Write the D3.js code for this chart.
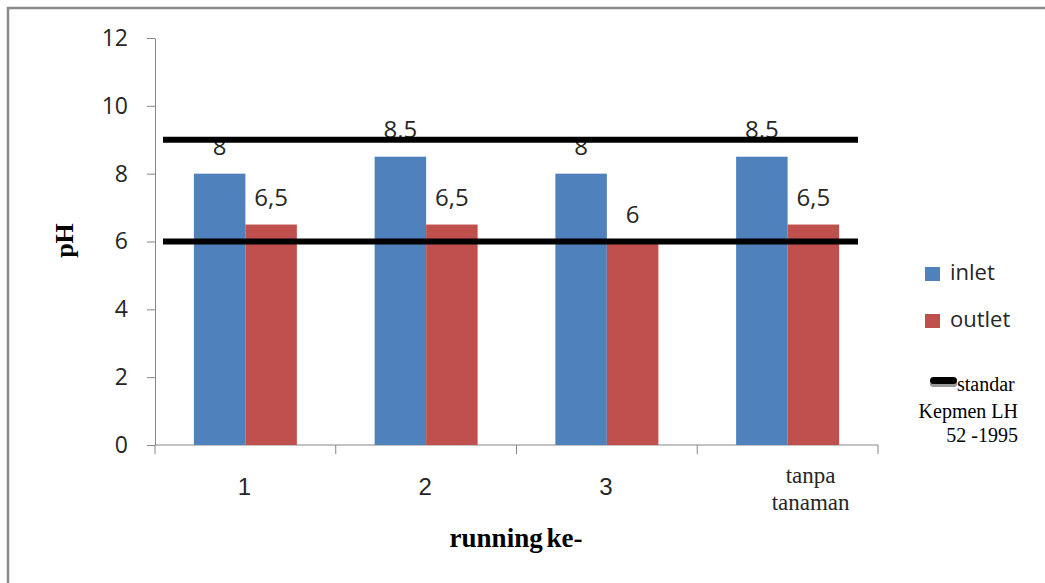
<!DOCTYPE html>
<html>
<head>
<meta charset="utf-8">
<script src="https://cdn.jsdelivr.net/npm/d3@7"></script>
<style>
  html, body { margin: 0; padding: 0; background: #fff; }
  svg { display: block; }
</style>
</head>
<body>
<svg id="chart" width="1045" height="583"></svg>
<script>
// ---- data ----
const categories = ["1", "2", "3", "tanpa tanaman"];
const seriesNames = ["inlet", "outlet"];
const inletValues = [8, 8.5, 8, 8.5];
const outletValues = [6.5, 6.5, 6, 6.5];
const valueLabels = [["8", "8,5", "8", "8,5"], ["6,5", "6,5", "6", "6,5"]];
const standardValues = [9, 6];
const yTicks = [0, 2, 4, 6, 8, 10, 12];
const seriesColors = ["#4F81BD", "#C0504D"];

const svg = d3.select("#chart");
const sansFont = "'Open Sans', 'Noto Sans', sans-serif";
const narrowFont = "'Liberation Sans Narrow', 'Liberation Sans', sans-serif";
const serifFont = "'Liberation Serif', 'DejaVu Serif', serif";
const textColor = "#262626";
const axisColor = "#868686";

// outer frame
svg.append("rect")
  .attr("x", 8).attr("y", 8).attr("width", 1100).attr("height", 620)
  .attr("fill", "none").attr("stroke", "#8a8a8a").attr("stroke-width", 2.5);

const plotLeft = 155, plotRight = 878, plotTop = 38, plotBottom = 445;

const x0 = d3.scaleBand().domain(categories).range([plotLeft, plotRight]).padding(0);
const x1 = d3.scaleBand().domain(seriesNames).range([0, x0.bandwidth()])
  .paddingInner(0).paddingOuter(0.755);
const y = d3.scaleLinear().domain([0, 12]).range([plotBottom, plotTop]);

// y axis
const yAxis = d3.axisLeft(y).tickValues(yTicks).tickFormat(d3.format("d"))
  .tickSize(8).tickSizeOuter(0).tickPadding(19);
const gy = svg.append("g").attr("transform", `translate(${plotLeft},0)`).call(yAxis);
gy.select(".domain").attr("stroke", axisColor);
gy.selectAll(".tick line").attr("stroke", axisColor);
gy.selectAll(".tick text").attr("fill", textColor)
  .style("font-family", sansFont).style("font-size", "23px");

// x axis line and ticks at category boundaries
const gx = svg.append("g");
gx.append("line").attr("x1", plotLeft).attr("x2", plotRight)
  .attr("y1", plotBottom).attr("y2", plotBottom).attr("stroke", axisColor);
const boundaries = categories.map(c => x0(c)).concat([x0(categories[categories.length - 1]) + x0.bandwidth()]);
gx.selectAll("line.xt").data(boundaries).enter().append("line")
  .attr("class", "xt")
  .attr("x1", d => d).attr("x2", d => d)
  .attr("y1", plotBottom).attr("y2", plotBottom + 9)
  .attr("stroke", axisColor);

// bars
const seriesData = [inletValues, outletValues];
seriesNames.forEach((s, si) => {
  svg.append("g").selectAll("rect").data(categories).enter().append("rect")
    .attr("x", c => x0(c) + x1(s))
    .attr("width", x1.bandwidth())
    .attr("y", (c, i) => y(seriesData[si][i]))
    .attr("height", (c, i) => y(0) - y(seriesData[si][i]))
    .attr("fill", seriesColors[si]);
});

// value labels
seriesNames.forEach((s, si) => {
  svg.append("g").selectAll("text").data(categories).enter().append("text")
    .attr("x", c => x0(c) + x1(s) + x1.bandwidth() / 2)
    .attr("y", (c, i) => y(seriesData[si][i]) - 19)
    .attr("text-anchor", "middle")
    .attr("fill", textColor)
    .style("font-family", sansFont).style("font-size", "24px")
    .text((c, i) => valueLabels[si][i]);
});

// standard lines (drawn over labels)
svg.append("g").selectAll("line").data(standardValues).enter().append("line")
  .attr("x1", plotLeft + 8).attr("x2", plotRight - 20)
  .attr("y1", d => y(d)).attr("y2", d => y(d))
  .attr("stroke", "#000").attr("stroke-width", 6);

// category labels
const catG = svg.append("g");
categories.forEach((c, i) => {
  const cx = x0(c) + x0.bandwidth() / 2;
  const words = c.split(" ");
  if (words.length === 1) {
    catG.append("text").attr("x", cx - 1).attr("y", 495)
      .attr("text-anchor", "middle").attr("fill", textColor)
      .style("font-family", narrowFont).style("font-size", "24px")
      .text(c);
  } else {
    words.forEach((w, wi) => {
      catG.append("text").attr("x", cx + 23).attr("y", 483 + wi * 27)
        .attr("text-anchor", "middle").attr("fill", textColor)
        .style("font-family", serifFont).style("font-size", "23px")
        .text(w);
    });
  }
});

// axis titles
svg.append("text").attr("x", 516).attr("y", 547)
  .attr("text-anchor", "middle").attr("fill", "#000")
  .style("font-family", serifFont).style("font-size", "27px").style("font-weight", "bold")
  .style("word-spacing", "-3px")
  .text("running ke-");
svg.append("text")
  .attr("transform", "translate(73,240.5) rotate(-90)")
  .attr("text-anchor", "middle").attr("fill", "#000")
  .style("font-family", serifFont).style("font-size", "26px").style("font-weight", "bold")
  .text("pH");

// legend
const legend = svg.append("g");
seriesNames.forEach((s, si) => {
  const ly = 267 + si * 47;
  legend.append("rect").attr("x", 925).attr("y", ly).attr("width", 15).attr("height", 14)
    .attr("fill", seriesColors[si]);
  legend.append("text").attr("x", 950).attr("y", ly + 13)
    .attr("fill", textColor)
    .style("font-family", sansFont).style("font-size", "22px")
    .text(s);
});
legend.append("rect").attr("x", 930).attr("y", 381).attr("width", 27).attr("height", 6)
  .attr("rx", 3).attr("fill", "#9a9a9a");
legend.append("rect").attr("x", 930).attr("y", 377).attr("width", 27).attr("height", 7)
  .attr("rx", 3.5).attr("fill", "#000");
legend.append("text").attr("x", 957).attr("y", 391).attr("fill", "#000")
  .style("font-family", serifFont).style("font-size", "20px").text("standar");
legend.append("text").attr("x", 1018).attr("y", 418).attr("text-anchor", "end").attr("fill", "#000")
  .style("font-family", serifFont).style("font-size", "20px").text("Kepmen LH");
legend.append("text").attr("x", 1018).attr("y", 442).attr("text-anchor", "end").attr("fill", "#000")
  .style("font-family", serifFont).style("font-size", "20px").text("52 -1995");
</script>
</body>
</html>
